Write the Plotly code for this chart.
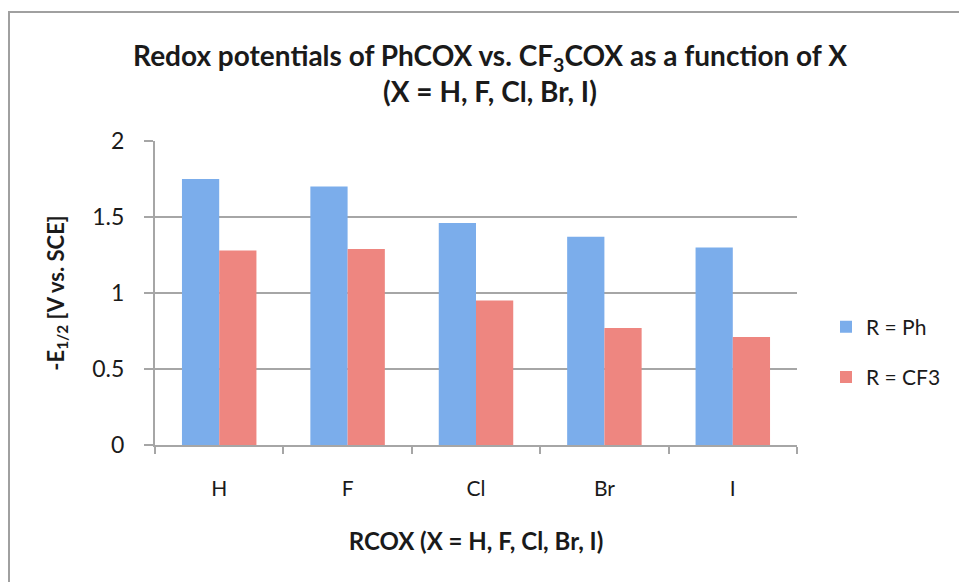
import plotly.graph_objects as go

# Halide substituents X on the acyl compounds RCOX
categories = ["H", "F", "Cl", "Br", "I"]
# -E1/2 values (V vs. SCE)
ph_values = [1.75, 1.70, 1.46, 1.37, 1.30]
cf3_values = [1.28, 1.29, 0.95, 0.77, 0.71]
series_names = ["R = Ph", "R = CF3"]
y_ticks = [0, 0.5, 1, 1.5, 2]
y_tick_labels = ["0", "0.5", "1", "1.5", "2"]

FONT = "Lato, 'Open Sans', sans-serif"
GRID = "#a6a6a6"
TEXT = "#1a1a1a"

fig = go.Figure()
fig.add_trace(go.Bar(
    x=categories, y=ph_values, name=series_names[0], legendgroup="ph",
    marker=dict(color="#7badeb", line=dict(width=0)),
))
fig.add_trace(go.Bar(
    x=categories, y=cf3_values, name=series_names[1], legendgroup="cf3",
    marker=dict(color="#ee8680", line=dict(width=0)),
))

L, R, T, B = 155, 162, 141, 137
W, H = 959, 582
pw, ph = W - L - R, H - T - B

def px_x(x):
    return (x - L) / pw

def px_y(y):
    return (H - B - y) / ph

fig.update_layout(
    width=W, height=H,
    margin=dict(l=L, r=R, t=T, b=B, pad=0),
    paper_bgcolor="white", plot_bgcolor="white",
    barmode="group", bargap=0.42, bargroupgap=0,
    font=dict(family=FONT, size=20, color=TEXT),
    title=dict(
        text="Redox potentials of PhCOX vs. CF<sub>3</sub>COX as a function of X<br>(X = H, F, Cl, Br, I)",
        x=490 / W, xanchor="center", y=1 - 66 / H, yanchor="middle",
        font=dict(family=FONT, size=28, color=TEXT, weight="bold"),
    ),
    legend=dict(
        x=px_x(826), xanchor="left", y=px_y(352), yanchor="middle",
        font=dict(family=FONT, size=21, color=TEXT),
        traceorder="grouped", tracegroupgap=20,
        itemwidth=30, bgcolor="rgba(0,0,0,0)",
    ),
    xaxis=dict(
        showline=True, linecolor=GRID, linewidth=2,
        ticks="outside", tickson="boundaries", ticklen=7, tickwidth=2, tickcolor=GRID,
        ticklabelstandoff=24,
        tickfont=dict(family=FONT, size=21, color=TEXT),
        title=dict(text="RCOX (X = H, F, Cl, Br, I)", standoff=34,
                   font=dict(family=FONT, size=24, color=TEXT, weight="bold")),
        showgrid=False,
    ),
    yaxis=dict(
        range=[0, 2], tickvals=y_ticks, ticktext=y_tick_labels,
        showline=True, linecolor=GRID, linewidth=2,
        ticks="outside", ticklen=9, tickwidth=2, tickcolor=GRID,
        showgrid=True, gridcolor=GRID, gridwidth=2,
        zeroline=False,
        tickfont=dict(family=FONT, size=23, color=TEXT),
        ticklabelstandoff=15,
        title=dict(text="-E<sub>1/2</sub> [V vs. SCE]", standoff=22,
                   font=dict(family=FONT, size=22, color=TEXT, weight="bold")),
    ),
    shapes=[dict(
        type="rect", xref="paper", yref="paper",
        x0=px_x(9), x1=px_x(975), y0=px_y(600), y1=px_y(12),
        line=dict(color="#a0a0a0", width=2), fillcolor="rgba(0,0,0,0)", layer="below",
    )],
)

fig.write_html("out.html")
